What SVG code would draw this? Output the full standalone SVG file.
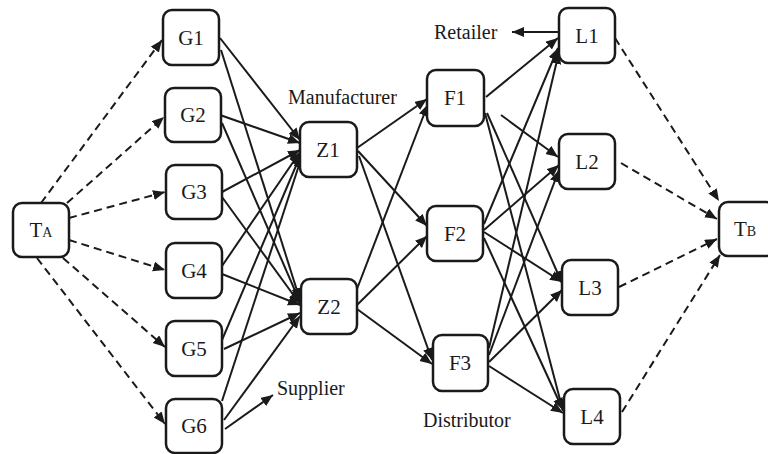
<svg xmlns="http://www.w3.org/2000/svg" width="768" height="454" viewBox="0 0 768 454">
<style>
.box{fill:#fff;stroke:#1a1a1a;stroke-width:2.5}
.t{font-family:"Liberation Serif","Times New Roman",serif;font-size:21px;fill:#1a1a1a;text-anchor:middle}
.lab{font-family:"Liberation Serif","Times New Roman",serif;font-size:20px;fill:#1a1a1a}
.sub{font-size:14px}
.e{stroke:#1a1a1a;stroke-width:2;fill:none;marker-end:url(#ah)}
.d{stroke:#1a1a1a;stroke-width:2;fill:none;stroke-dasharray:8 5;marker-end:url(#ah)}
</style>
<defs>
<marker id="ah" markerUnits="userSpaceOnUse" markerWidth="13" markerHeight="11" refX="12" refY="5" orient="auto">
<path d="M0,0 L12,5 L0,10 z" fill="#1a1a1a"/>
</marker>
</defs>
<rect width="768" height="454" fill="#fff"/>
<g id="connectors">
<path class="d" d="M41,203 L162,40"/>
<path class="d" d="M67,203 L164,117"/>
<path class="d" d="M69,218 L165,192"/>
<path class="d" d="M69,240 L165,270"/>
<path class="d" d="M63,258 L165,347"/>
<path class="d" d="M37,258 L165,424"/>
<path class="e" d="M220,38 L300,140"/>
<path class="e" d="M221,50 L300,300"/>
<path class="e" d="M220,115 L300,143"/>
<path class="e" d="M222,123 L300,302"/>
<path class="e" d="M222,192 L300,150"/>
<path class="e" d="M222,197 L300,304"/>
<path class="e" d="M222,266 L300,152"/>
<path class="e" d="M222,274 L300,305"/>
<path class="e" d="M222,340 L301,154"/>
<path class="e" d="M224,349 L300,313"/>
<path class="e" d="M222,401 L302,156"/>
<path class="e" d="M224,420 L300,316"/>
<path class="e" d="M225,429 L273,395"/>
<path class="e" d="M357,148 L427,99"/>
<path class="e" d="M358,151 L427,226"/>
<path class="e" d="M359,156 L432,360"/>
<path class="e" d="M357,289 L428,104"/>
<path class="e" d="M357,305 L427,236"/>
<path class="e" d="M357,309 L432,364"/>
<path class="e" d="M486,97 L558,38"/>
<path class="e" d="M501,115 L558,157"/>
<path class="e" d="M487,113 L562,283"/>
<path class="e" d="M485,113 L563,411"/>
<path class="e" d="M484,224 L558,48"/>
<path class="e" d="M484,230 L559,165"/>
<path class="e" d="M484,232 L562,282"/>
<path class="e" d="M484,238 L563,410"/>
<path class="e" d="M489,348 L559,52"/>
<path class="e" d="M489,355 L559,170"/>
<path class="e" d="M489,362 L562,290"/>
<path class="e" d="M489,366 L563,413"/>
<path class="d" d="M615,38 L719,201"/>
<path class="d" d="M621,163 L717,219"/>
<path class="d" d="M619,287 L717,239"/>
<path class="d" d="M622,412 L720,255"/>
<path class="e" d="M558,32 L512,32"/>
</g>
<g id="TA"><rect class="box" x="13" y="203" width="56" height="54" rx="9"/><text class="t" x="41" y="237">T<tspan class="sub">A</tspan></text></g>
<g id="G1"><rect class="box" x="163" y="10" width="56" height="55" rx="9"/><text class="t" x="191" y="45">G1</text></g>
<g id="G2"><rect class="box" x="165" y="88" width="56" height="54" rx="9"/><text class="t" x="193" y="122">G2</text></g>
<g id="G3"><rect class="box" x="166" y="165" width="56" height="54" rx="9"/><text class="t" x="194" y="199">G3</text></g>
<g id="G4"><rect class="box" x="166" y="243" width="56" height="55" rx="9"/><text class="t" x="194" y="278">G4</text></g>
<g id="G5"><rect class="box" x="166" y="321" width="56" height="55" rx="9"/><text class="t" x="194" y="356">G5</text></g>
<g id="G6"><rect class="box" x="166" y="399" width="56" height="54" rx="9"/><text class="t" x="194" y="433">G6</text></g>
<g id="Z1"><rect class="box" x="300" y="122" width="57" height="55" rx="9"/><text class="t" x="328" y="157">Z1</text></g>
<g id="Z2"><rect class="box" x="301" y="279" width="56" height="55" rx="9"/><text class="t" x="329" y="314">Z2</text></g>
<g id="F1"><rect class="box" x="427" y="70" width="57" height="56" rx="9"/><text class="t" x="455" y="105">F1</text></g>
<g id="F2"><rect class="box" x="427" y="206" width="56" height="55" rx="9"/><text class="t" x="455" y="241">F2</text></g>
<g id="F3"><rect class="box" x="433" y="335" width="55" height="56" rx="9"/><text class="t" x="460" y="370">F3</text></g>
<g id="L1"><rect class="box" x="559" y="8" width="56" height="55" rx="9"/><text class="t" x="587" y="43">L1</text></g>
<g id="L2"><rect class="box" x="559" y="134" width="56" height="55" rx="9"/><text class="t" x="587" y="169">L2</text></g>
<g id="L3"><rect class="box" x="562" y="260" width="56" height="55" rx="9"/><text class="t" x="590" y="295">L3</text></g>
<g id="L4"><rect class="box" x="564" y="389" width="56" height="55" rx="9"/><text class="t" x="592" y="424">L4</text></g>
<g id="TB"><rect class="box" x="719" y="202" width="56" height="54" rx="9"/><text class="t" x="745" y="236">T<tspan class="sub">B</tspan></text></g>
<g id="labels">
<text class="lab" x="288" y="104">Manufacturer</text>
<text class="lab" x="434" y="39">Retailer</text>
<text class="lab" x="277" y="395">Supplier</text>
<text class="lab" x="423" y="427">Distributor</text>
</g>
</svg>
